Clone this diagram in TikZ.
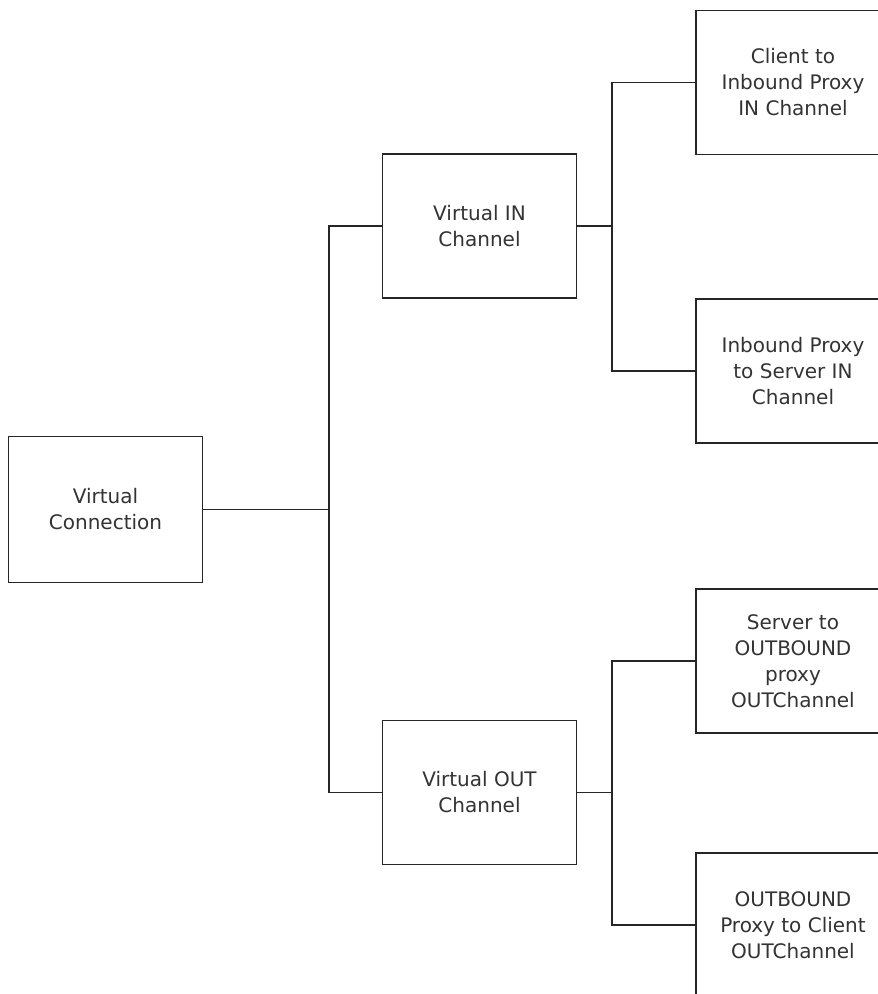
\documentclass[tikz,border=0pt]{standalone}
\usepackage{fontspec}
\setmainfont{DejaVu Sans}
\begin{document}
\begin{tikzpicture}[x=1pt, y=-1pt,
    box/.style={draw=black!85, line width=1.7pt, minimum width=194pt, minimum height=144pt,
        align=center, text=black!80, font=\fontsize{20}{26}\selectfont, inner sep=0pt},
    link/.style={draw=black!85, line width=1.7pt}]
    \useasboundingbox (0,0) rectangle (878,994);
    \fill[white] (0,0) rectangle (878,994);

    % root
    \node[box, minimum height=146pt] (vc) at (105.5, 509.5) {Virtual\\Connection};

    % channels
    \node[box] (vin) at (479.5, 226) {Virtual IN\\Channel};
    \node[box] (vout) at (479.5, 792.5) {Virtual OUT\\Channel};

    % leaves
    \node[box] (cin) at (793, 82.5) {Client to\\Inbound Proxy\\IN Channel};
    \node[box] (pin) at (793, 371) {Inbound Proxy\\to Server IN\\Channel};
    \node[box] (sout) at (793, 661) {Server to\\OUTBOUND\\proxy\\OUTChannel};
    \node[box] (pout) at (793, 925) {OUTBOUND\\Proxy to Client\\OUTChannel};

    % trunks
    \coordinate (t0) at (329, 509.5);
    \coordinate (t1) at (612, 226);
    \coordinate (t2) at (612, 792.5);

    \draw[link] (vc.east) -- (t0);
    \draw[link] (vin.west) -| (t0);
    \draw[link] (vout.west) -| (t0);

    \draw[link] (vin.east) -- (t1);
    \draw[link] (cin.west) -| (t1);
    \draw[link] (pin.west) -| (t1);

    \draw[link] (vout.east) -- (t2);
    \draw[link] (sout.west) -| (t2);
    \draw[link] (pout.west) -| (t2);
\end{tikzpicture}
\end{document}
